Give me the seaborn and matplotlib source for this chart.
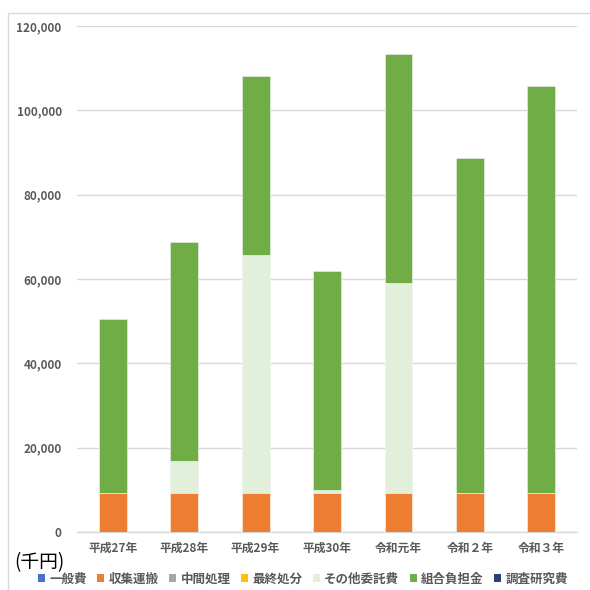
import matplotlib
matplotlib.use("Agg")
import matplotlib.pyplot as plt
from matplotlib.patches import Patch, Rectangle
from matplotlib.ticker import FuncFormatter
import numpy as np
import pandas as pd
import seaborn as sns

# 年度別の処理費内訳（千円）
years = ["平成27年", "平成28年", "平成29年", "平成30年", "令和元年", "令和２年", "令和３年"]
general = [0, 0, 0, 0, 0, 0, 0]              # 一般費
collection = [9200, 9200, 9200, 9200, 9200, 9200, 9200]  # 収集運搬
intermediate = [0, 0, 0, 0, 0, 0, 0]         # 中間処理
final_disposal = [0, 0, 0, 0, 0, 0, 0]       # 最終処分
other_contract = [0, 7600, 56500, 800, 49900, 0, 0]     # その他委託費
union_share = [41300, 52000, 42400, 52000, 54300, 79500, 96600]  # 組合負担金
research = [0, 0, 0, 0, 0, 0, 0]             # 調査研究費

series_names = ["一般費", "収集運搬", "中間処理", "最終処分", "その他委託費", "組合負担金", "調査研究費"]
series_values = [general, collection, intermediate, final_disposal, other_contract, union_share, research]
colors = ["#4472C4", "#ED7D31", "#A5A5A5", "#FFC000", "#E2EFDA", "#70AD47", "#264478"]

sns.set_theme(style="white")
plt.rcParams["font.family"] = ["Noto Sans CJK JP", "DejaVu Sans"]

fig = plt.figure(figsize=(5.9, 5.9), dpi=100)
ax = fig.add_axes([77 / 590, 1 - 532 / 590, 500 / 590, 506 / 590])

# 積み上げ: 累積値の大きい系列から順に重ねて描く
df = pd.DataFrame({"年度": years})
cum = np.zeros(len(years))
cums = []
for vals in series_values:
    cum = cum + np.array(vals, dtype=float)
    cums.append(cum.copy())

for name, c, color in reversed(list(zip(series_names, cums, colors))):
    df["value"] = c
    sns.barplot(data=df, x="年度", y="value", color=color, width=0.39,
                saturation=1, ax=ax, edgecolor="white", linewidth=0.4, zorder=3)

ax.set_ylim(0, 120000)
ax.set_xlim(-0.5, len(years) - 0.5)
ax.set_yticks(np.arange(0, 120001, 20000))
ax.yaxis.set_major_formatter(FuncFormatter(lambda v, p: f"{int(v):,}"))
ax.grid(axis="y", color="#D9D9D9", linewidth=1.0, zorder=0)
ax.set_axisbelow(True)
for side in ["left", "right", "top"]:
    ax.spines[side].set_visible(False)
ax.spines["bottom"].set_color("#D9D9D9")
ax.spines["bottom"].set_linewidth(1.0)
ax.tick_params(axis="both", length=0, colors="#595959", labelsize=8.5)
ax.tick_params(axis="y", pad=11)
ax.tick_params(axis="x", pad=7)
for lbl in ax.get_yticklabels() + ax.get_xticklabels():
    lbl.set_fontweight("bold")
    lbl.set_color("#595959")
ax.set_xlabel("")
ax.set_ylabel("")

# 凡例
handles = [Patch(facecolor=col, edgecolor="none") for col in colors]
fig.legend(handles, series_names, loc="center", bbox_to_anchor=(303 / 590, 1 - 579 / 590),
           ncol=7, frameon=False, handlelength=0.55, handleheight=0.55,
           handletextpad=0.35, columnspacing=0.85, labelcolor="#595959",
           prop={"family": ["Noto Sans CJK JP", "DejaVu Sans"], "weight": "bold", "size": 9})

fig.text(14 / 590, 1 - 563 / 590, "(千円)", fontsize=13.5, color="black", va="center", ha="left")

# 外枠
fig.patches.append(Rectangle((8 / 590, -0.05), 1.0, 1 - 13 / 590 + 0.05,
                             transform=fig.transFigure, fill=False,
                             edgecolor="#D9D9D9", linewidth=1.0))

fig.savefig("out.png", dpi=100)
